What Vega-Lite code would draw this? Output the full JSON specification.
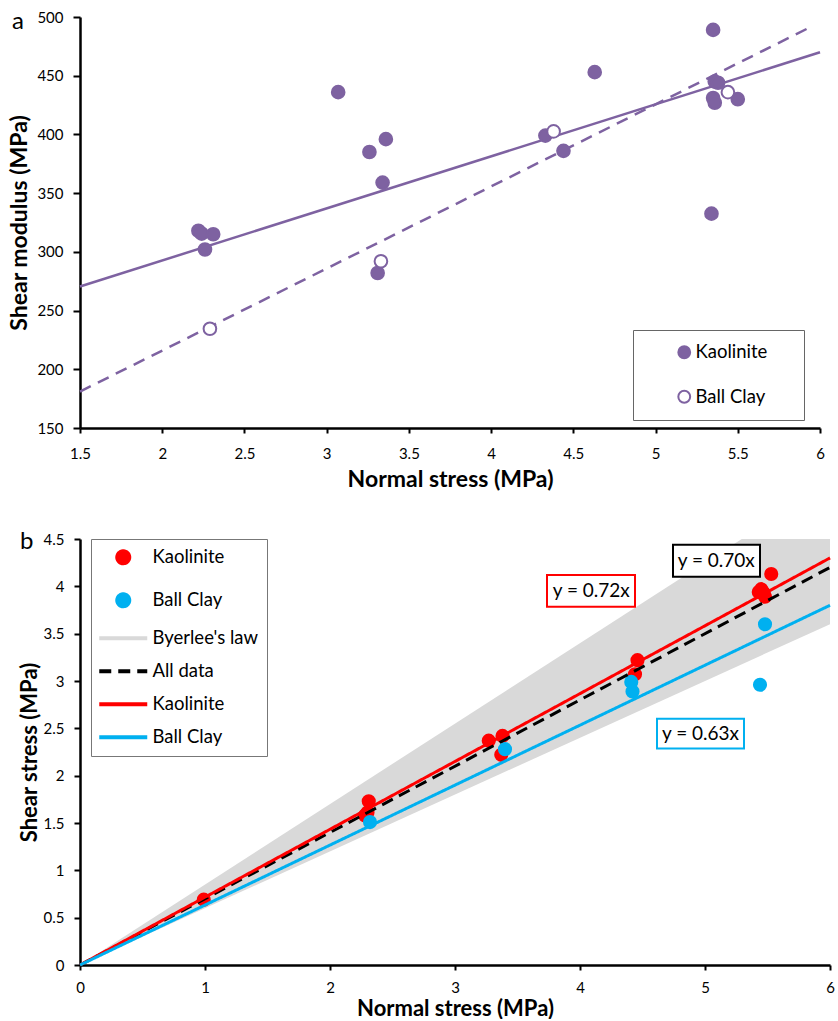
{
  "$schema": "https://vega.github.io/schema/vega-lite/v6.json",
  "background": "white",
  "padding": {"left": 8, "top": 10, "right": 0, "bottom": 0},
  "spacing": 39,
  "config": {
    "font": "Lato",
    "view": {"stroke": null},
    "axis": {
      "domainColor": "#000000", "domainWidth": 2.5,
      "tickColor": "#000000", "tickWidth": 2,
      "labelColor": "#000000", "labelFont": "Lato", "labelFontSize": 15, "labelFlush": false,
      "titleColor": "#000000", "titleFont": "Lato", "titleFontWeight": "bold",
      "grid": false
    },
    "legend": {"labelFont": "Lato", "labelColor": "#000000"},
    "title": {"font": "Lato", "color": "#000000"}
  },
  "resolve": {"scale": {"x": "independent", "y": "independent", "color": "independent", "fill": "independent", "stroke": "independent", "shape": "independent", "strokeDash": "independent"}},
  "vconcat": [
    {
      "width": 740,
      "height": 411,
      "title": {"text": "a", "anchor": "start", "frame": "bounds", "fontSize": 24, "fontWeight": "normal", "dy": 28, "dx": 3},
      "encoding": {
        "x": {"field": "normal", "type": "quantitative",
              "scale": {"domain": [1.5, 6], "nice": false, "zero": false},
              "axis": {"title": "Normal stress (MPa)", "titleFontSize": 23, "values": [1.5, 2, 2.5, 3, 3.5, 4, 4.5, 5, 5.5, 6], "format": "~g", "tickSize": 5, "labelPadding": 13, "titlePadding": 7}},
        "y": {"field": "modulus", "type": "quantitative",
              "scale": {"domain": [150, 500], "nice": false, "zero": false},
              "axis": {"title": "Shear modulus (MPa)", "titleFontSize": 23, "values": [150, 200, 250, 300, 350, 400, 450, 500], "tickSize": 7, "labelPadding": 10, "titlePadding": 5}}
      },
      "layer": [
        {
          "data": {"values": [
            {"normal": 1.5, "modulus": 270.5},
            {"normal": 6, "modulus": 470}
          ]},
          "mark": {"type": "line", "color": "#7E62A1", "strokeWidth": 2.5}
        },
        {
          "data": {"values": [
            {"normal": 1.5, "modulus": 181},
            {"normal": 5.95, "modulus": 492}
          ]},
          "mark": {"type": "line", "color": "#7E62A1", "strokeWidth": 2.5, "strokeDash": [12, 8]}
        },
        {
          "data": {"values": [
            {"normal": 2.22, "modulus": 318, "sample": "Kaolinite"},
            {"normal": 2.24, "modulus": 315.5, "sample": "Kaolinite"},
            {"normal": 2.31, "modulus": 315, "sample": "Kaolinite"},
            {"normal": 2.26, "modulus": 302, "sample": "Kaolinite"},
            {"normal": 3.07, "modulus": 436, "sample": "Kaolinite"},
            {"normal": 3.26, "modulus": 385, "sample": "Kaolinite"},
            {"normal": 3.36, "modulus": 396, "sample": "Kaolinite"},
            {"normal": 3.34, "modulus": 359, "sample": "Kaolinite"},
            {"normal": 3.31, "modulus": 282, "sample": "Kaolinite"},
            {"normal": 4.33, "modulus": 399, "sample": "Kaolinite"},
            {"normal": 4.44, "modulus": 386, "sample": "Kaolinite"},
            {"normal": 4.63, "modulus": 453, "sample": "Kaolinite"},
            {"normal": 5.35, "modulus": 489, "sample": "Kaolinite"},
            {"normal": 5.36, "modulus": 445, "sample": "Kaolinite"},
            {"normal": 5.38, "modulus": 444, "sample": "Kaolinite"},
            {"normal": 5.35, "modulus": 431, "sample": "Kaolinite"},
            {"normal": 5.36, "modulus": 427, "sample": "Kaolinite"},
            {"normal": 5.5, "modulus": 430, "sample": "Kaolinite"},
            {"normal": 5.34, "modulus": 332.5, "sample": "Kaolinite"},
            {"normal": 2.29, "modulus": 234.5, "sample": "Ball Clay"},
            {"normal": 3.33, "modulus": 292, "sample": "Ball Clay"},
            {"normal": 4.38, "modulus": 402.6, "sample": "Ball Clay"},
            {"normal": 5.44, "modulus": 436, "sample": "Ball Clay"}
          ]},
          "mark": {"type": "point", "shape": "circle", "filled": true, "size": 160, "stroke": "#7E62A1", "strokeWidth": 2, "opacity": 1},
          "encoding": {
            "fill": {"field": "sample", "type": "nominal",
                     "scale": {"domain": ["Kaolinite", "Ball Clay"], "range": ["#7E62A1", "#FFFFFF"]},
                     "legend": {"title": null, "orient": "none", "legendX": 553, "legendY": 313,
                                "strokeColor": "#666666", "fillColor": "#FFFFFF", "padding": 13,
                                "symbolOffset": 29, "symbolSize": 140, "symbolType": "circle",
                                "symbolStrokeColor": "#7E62A1", "symbolStrokeWidth": 2, "symbolOpacity": 1,
                                "labelFontSize": 18.5, "labelOffset": 2, "rowPadding": 23.5,
                                "labelExpr": "datum.label + '\u00a0\u00a0\u2800'"}}
          }
        }
      ]
    },
    {
      "width": 750,
      "height": 426,
      "title": {"text": "b", "anchor": "start", "frame": "bounds", "fontSize": 24, "fontWeight": "normal", "dy": 26, "dx": 2},
      "encoding": {
        "x": {"field": "normal", "type": "quantitative",
              "scale": {"domain": [0, 6], "nice": false},
              "axis": {"title": "Normal stress (MPa)", "titleFontSize": 22, "values": [0, 1, 2, 3, 4, 5, 6], "format": "~g", "tickSize": 5, "labelPadding": 10, "titlePadding": 3}},
        "y": {"field": "shear", "type": "quantitative",
              "scale": {"domain": [0, 4.5], "nice": false},
              "axis": {"title": "Shear stress (MPa)", "titleFontSize": 22, "values": [0, 0.5, 1, 1.5, 2, 2.5, 3, 3.5, 4, 4.5], "format": "~g", "tickSize": 6, "labelPadding": 10, "titlePadding": 2}}
      },
      "layer": [
        {
          "data": {"values": [
            {"normal": 0, "shear": 0, "shear_lo": 0, "series": "Byerlee's law"},
            {"normal": 6, "shear": 5.1, "shear_lo": 3.6, "series": "Byerlee's law"}
          ]},
          "mark": {"type": "area", "clip": true, "opacity": 1},
          "encoding": {
            "y2": {"field": "shear_lo"},
            "fill": {"field": "series", "type": "nominal",
                     "scale": {"domain": ["Kaolinite_pt", "Ball Clay_pt", "Byerlee's law", "All data", "Kaolinite_line", "Ball Clay_line"],
                               "range": ["#FF0000", "#00B0F0", "#D9D9D9", "#000000", "#FF0000", "#00B0F0"]},
                     "legend": {"title": null, "orient": "none", "legendX": 11, "legendY": 0,
                                "strokeColor": "#777777", "fillColor": "#FFFFFF", "padding": 9,
                                "symbolSize": 144, "symbolStrokeWidth": 4, "symbolOffset": 14, "symbolOpacity": 1,
                                "labelFontSize": 18.5, "labelOffset": 20, "rowPadding": 14,
                                "labelExpr": "replace(replace(datum.label, '_pt', ''), '_line', '')"}}
          }
        },
        {
          "data": {"values": [
            {"normal": 0.99, "shear": 0.69, "series": "Kaolinite_pt"},
            {"normal": 2.31, "shear": 1.73, "series": "Kaolinite_pt"},
            {"normal": 2.30, "shear": 1.61, "series": "Kaolinite_pt"},
            {"normal": 2.28, "shear": 1.58, "series": "Kaolinite_pt"},
            {"normal": 3.27, "shear": 2.37, "series": "Kaolinite_pt"},
            {"normal": 3.38, "shear": 2.42, "series": "Kaolinite_pt"},
            {"normal": 3.37, "shear": 2.22, "series": "Kaolinite_pt"},
            {"normal": 4.46, "shear": 3.22, "series": "Kaolinite_pt"},
            {"normal": 4.44, "shear": 3.07, "series": "Kaolinite_pt"},
            {"normal": 5.53, "shear": 4.13, "series": "Kaolinite_pt"},
            {"normal": 5.45, "shear": 3.97, "series": "Kaolinite_pt"},
            {"normal": 5.48, "shear": 3.89, "series": "Kaolinite_pt"},
            {"normal": 5.43, "shear": 3.94, "series": "Kaolinite_pt"},
            {"normal": 5.47, "shear": 3.93, "series": "Kaolinite_pt"},
            {"normal": 2.32, "shear": 1.51, "series": "Ball Clay_pt"},
            {"normal": 3.40, "shear": 2.28, "series": "Ball Clay_pt"},
            {"normal": 4.41, "shear": 2.99, "series": "Ball Clay_pt"},
            {"normal": 4.42, "shear": 2.89, "series": "Ball Clay_pt"},
            {"normal": 5.48, "shear": 3.60, "series": "Ball Clay_pt"},
            {"normal": 5.44, "shear": 2.96, "series": "Ball Clay_pt"}
          ]},
          "mark": {"type": "point", "filled": true, "size": 200, "opacity": 1},
          "encoding": {
            "fill": {"field": "series", "type": "nominal",
                     "legend": {"title": null, "orient": "none", "legendX": 11, "legendY": 0,
                                "strokeColor": "#777777", "fillColor": "#FFFFFF", "padding": 9,
                                "symbolSize": 144, "symbolStrokeWidth": 4, "symbolOffset": 14, "symbolOpacity": 1,
                                "labelFontSize": 18.5, "labelOffset": 20, "rowPadding": 14,
                                "labelExpr": "replace(replace(datum.label, '_pt', ''), '_line', '')"}},
            "shape": {"field": "series", "type": "nominal",
                      "scale": {"domain": ["Kaolinite_pt", "Ball Clay_pt", "Byerlee's law", "All data", "Kaolinite_line", "Ball Clay_line"],
                                "range": ["circle", "circle", "M-4,0H4", "M-4,0H4", "M-4,0H4", "M-4,0H4"]},
                      "legend": {"title": null, "orient": "none", "legendX": 11, "legendY": 0,
                                 "strokeColor": "#777777", "fillColor": "#FFFFFF", "padding": 9,
                                 "symbolSize": 144, "symbolStrokeWidth": 4, "symbolOffset": 14, "symbolOpacity": 1,
                                 "labelFontSize": 18.5, "labelOffset": 20, "rowPadding": 14,
                                 "labelExpr": "replace(replace(datum.label, '_pt', ''), '_line', '')"}}
          }
        },
        {
          "data": {"values": [
            {"normal": 0, "shear": 0, "series": "All data"},
            {"normal": 6, "shear": 4.2, "series": "All data"},
            {"normal": 0, "shear": 0, "series": "Kaolinite_line"},
            {"normal": 6, "shear": 4.3, "series": "Kaolinite_line"},
            {"normal": 0, "shear": 0, "series": "Ball Clay_line"},
            {"normal": 6, "shear": 3.8, "series": "Ball Clay_line"}
          ]},
          "mark": {"type": "line", "strokeWidth": 3},
          "encoding": {
            "stroke": {"field": "series", "type": "nominal",
                       "scale": {"domain": ["Kaolinite_pt", "Ball Clay_pt", "Byerlee's law", "All data", "Kaolinite_line", "Ball Clay_line"],
                                 "range": ["#FF0000", "#00B0F0", "#D9D9D9", "#000000", "#FF0000", "#00B0F0"]},
                       "legend": {"title": null, "orient": "none", "legendX": 11, "legendY": 0,
                                  "strokeColor": "#777777", "fillColor": "#FFFFFF", "padding": 9,
                                  "symbolSize": 144, "symbolStrokeWidth": 4, "symbolOffset": 14, "symbolOpacity": 1,
                                  "labelFontSize": 18.5, "labelOffset": 20, "rowPadding": 14,
                                  "labelExpr": "replace(replace(datum.label, '_pt', ''), '_line', '')"}},
            "strokeDash": {"field": "series", "type": "nominal",
                           "scale": {"domain": ["Kaolinite_pt", "Ball Clay_pt", "Byerlee's law", "All data", "Kaolinite_line", "Ball Clay_line"],
                                     "range": [[1, 0], [1, 0], [1, 0], [12, 7], [1, 0], [1, 0]]},
                           "legend": {"title": null, "orient": "none", "legendX": 11, "legendY": 0,
                                      "strokeColor": "#777777", "fillColor": "#FFFFFF", "padding": 9,
                                      "symbolSize": 144, "symbolStrokeWidth": 4, "symbolOffset": 14, "symbolOpacity": 1,
                                      "labelFontSize": 18.5, "labelOffset": 20, "rowPadding": 14,
                                      "labelExpr": "replace(replace(datum.label, '_pt', ''), '_line', '')"}}
          }
        },
        {
          "data": {"values": [
            {"normal": 4.744, "normal_end": 5.44, "shear": 4.10, "shear_top": 4.44, "series": "All data"},
            {"normal": 3.736, "normal_end": 4.44, "shear": 3.785, "shear_top": 4.12, "series": "Kaolinite_line"},
            {"normal": 4.616, "normal_end": 5.312, "shear": 2.287, "shear_top": 2.60, "series": "Ball Clay_line"}
          ]},
          "mark": {"type": "rect", "filled": false, "fill": "#FFFFFF", "strokeWidth": 2},
          "encoding": {
            "x2": {"field": "normal_end"},
            "y2": {"field": "shear_top"},
            "color": {"field": "series", "type": "nominal",
                      "scale": {"domain": ["All data", "Kaolinite_line", "Ball Clay_line"], "range": ["#000000", "#FF0000", "#00B0F0"]},
                      "legend": null}
          }
        },
        {
          "data": {"values": [
            {"normal": 5.09, "shear": 4.27, "label": "y = 0.70x"},
            {"normal": 4.09, "shear": 3.955, "label": "y = 0.72x"},
            {"normal": 4.964, "shear": 2.445, "label": "y = 0.63x"}
          ]},
          "mark": {"type": "text", "font": "Lato", "fontSize": 19, "color": "#000000", "align": "center", "baseline": "middle"},
          "encoding": {"text": {"field": "label", "type": "nominal"}}
        }
      ]
    }
  ]
}
